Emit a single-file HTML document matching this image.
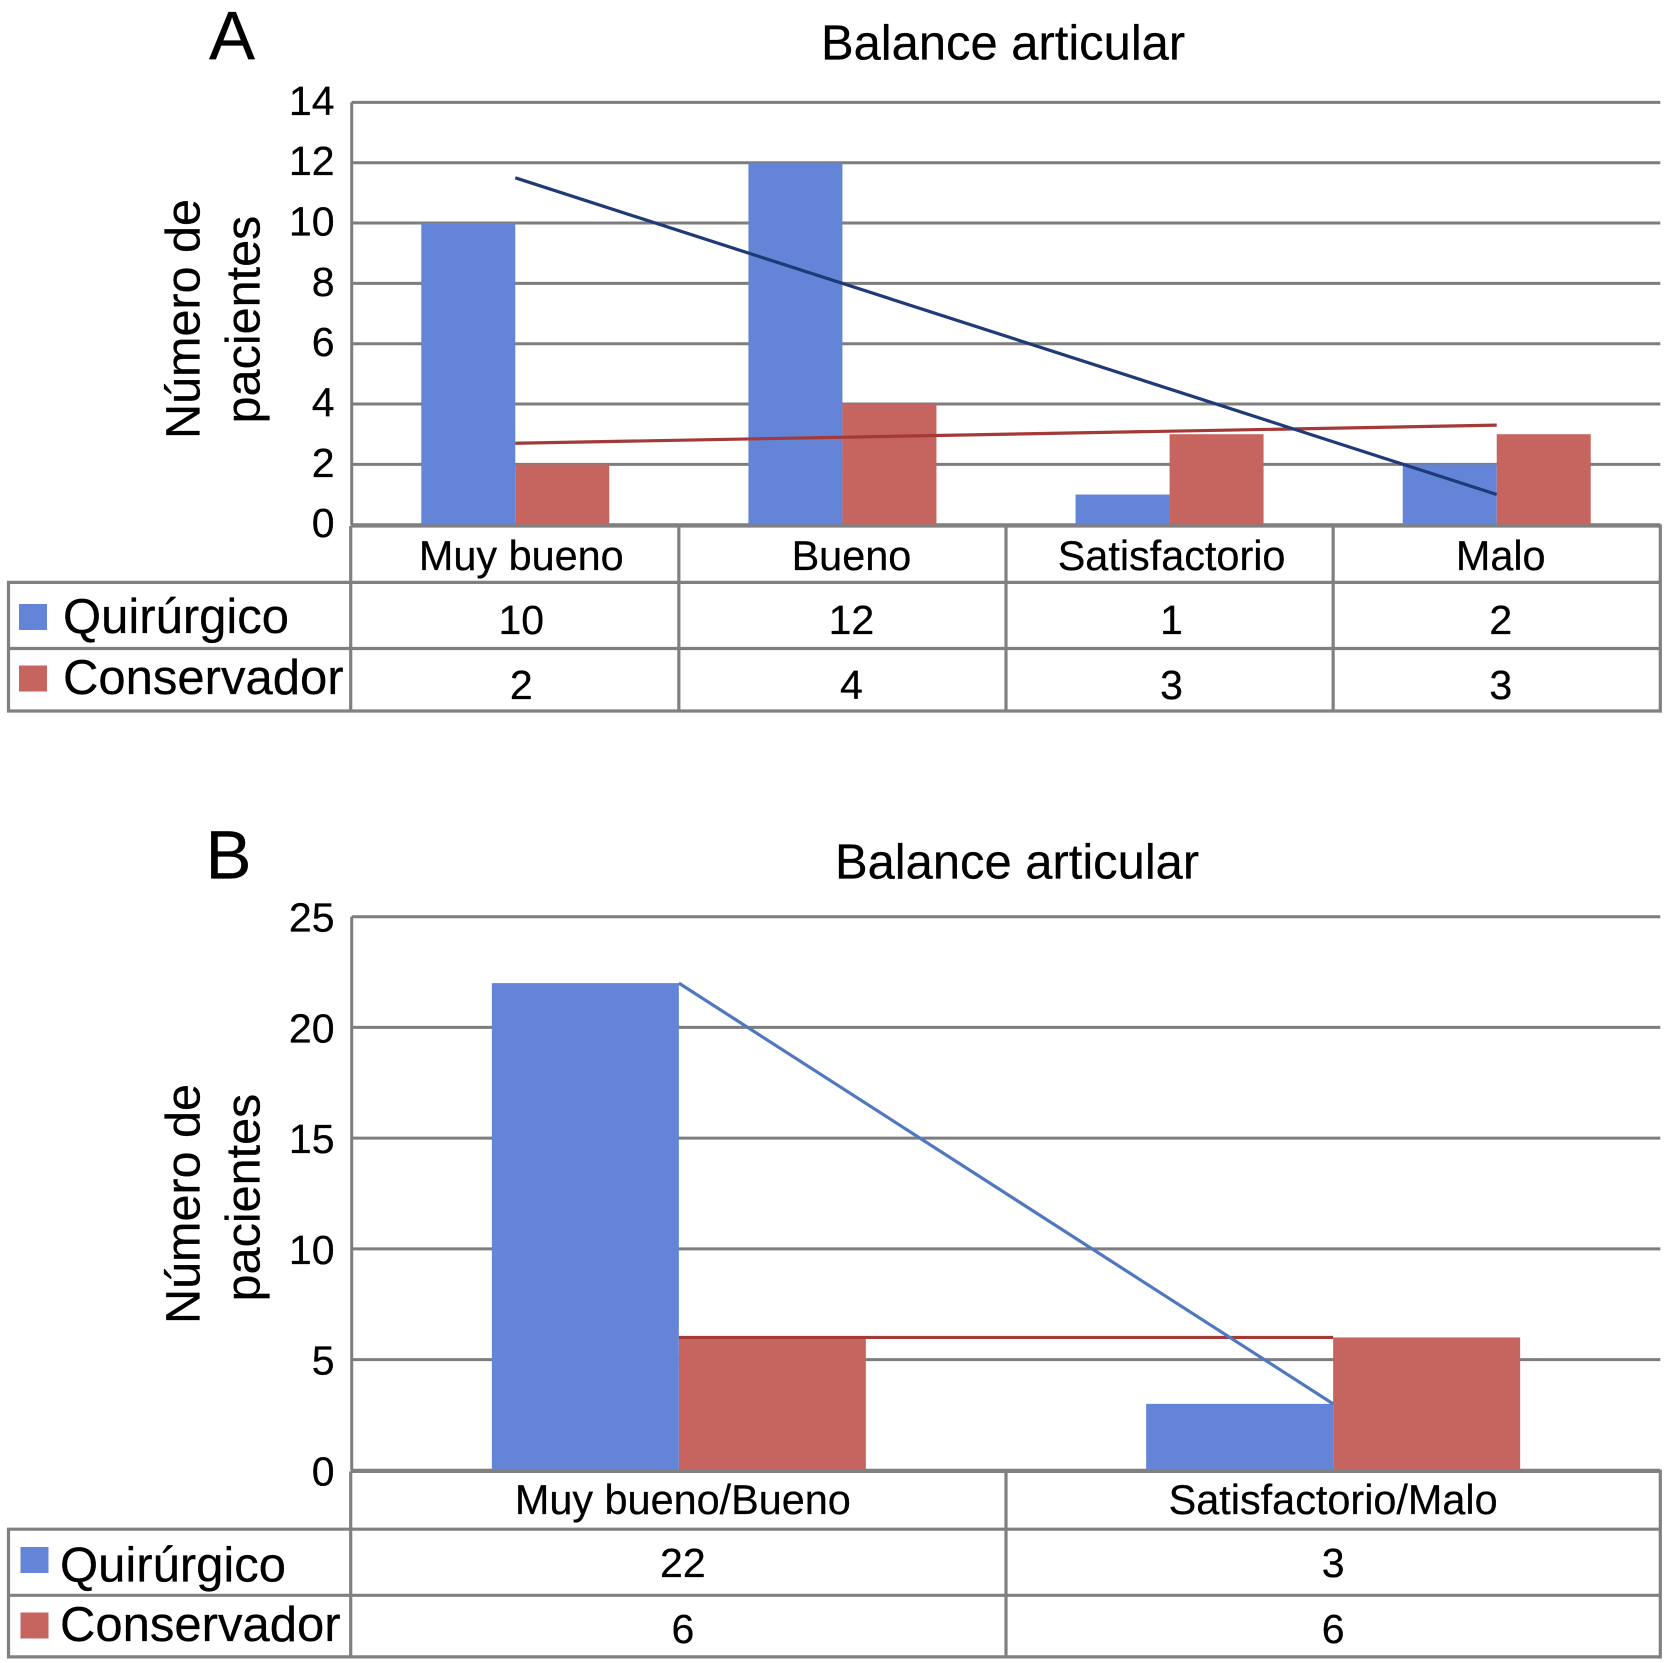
<!DOCTYPE html>
<html lang="es">
<head>
<meta charset="utf-8">
<title>Balance articular</title>
<style>
html,body{margin:0;padding:0;background:#fff;}
svg{display:block;}
text{font-family:"Liberation Sans",sans-serif;fill:#000;stroke:#000;stroke-width:0.25px;}
</style>
</head>
<body>
<svg id="figure" xmlns="http://www.w3.org/2000/svg" width="1666" height="1663" viewBox="0 0 1666 1663">
  <rect x="0" y="0" width="1666" height="1663" fill="#ffffff"/>
  <text x="209" y="59.6" font-size="69">A</text>
  <text x="821" y="59.6" font-size="48.9">Balance articular</text>
  <text transform="translate(199.5 319) rotate(-90)" text-anchor="middle" font-size="48.5">Número de</text>
  <text transform="translate(259.5 319.5) rotate(-90)" text-anchor="middle" font-size="48.5">pacientes</text>
  <g id="chart-a"></g>

  <text x="205.5" y="878.7" font-size="69">B</text>
  <text x="835" y="878.5" font-size="48.9">Balance articular</text>
  <text transform="translate(199.5 1204) rotate(-90)" text-anchor="middle" font-size="48.5">Número de</text>
  <text transform="translate(259.5 1197.5) rotate(-90)" text-anchor="middle" font-size="48.5">pacientes</text>
  <g id="chart-b"></g>
</svg>
<script>
const categoriesA = ['Muy bueno', 'Bueno', 'Satisfactorio', 'Malo'];
const quirurgicoA = [10, 12, 1, 2];
const conservadorA = [2, 4, 3, 3];
const ticksA = [0, 2, 4, 6, 8, 10, 12, 14];

const categoriesB = ['Muy bueno/Bueno', 'Satisfactorio/Malo'];
const quirurgicoB = [22, 3];
const conservadorB = [6, 6];
const ticksB = [0, 5, 10, 15, 20, 25];

const seriesNames = ['Quirúrgico', 'Conservador'];

const SVG_NS = 'http://www.w3.org/2000/svg';
const BLUE = '#6484d8';
const RED = '#c66460';
const GRID = '#7d7d7d';

function mk(parent, tag, attrs, text) {
  const el = document.createElementNS(SVG_NS, tag);
  for (const k in attrs) el.setAttribute(k, attrs[k]);
  if (text !== undefined) el.textContent = text;
  parent.appendChild(el);
  return el;
}

function trend(values) {
  const n = values.length;
  const mx = (n - 1) / 2;
  const my = values.reduce((a, b) => a + b, 0) / n;
  let sxy = 0, sxx = 0;
  values.forEach((v, i) => { sxy += (i - mx) * (v - my); sxx += (i - mx) * (i - mx); });
  const slope = sxy / sxx;
  return i => my + slope * (i - mx);
}

function drawChart(root, p, cats, s1, s2, ticks, L) {
  const yMax = ticks[ticks.length - 1];
  const y = v => L.y0 - (v / yMax) * (L.y0 - L.yTop);
  const band = (L.right - L.left) / cats.length;
  const cx = i => L.left + band * (i + 0.5);

  ticks.forEach(t => {
    const line = mk(root, 'line', { x1: L.left, x2: L.right, y1: y(t), y2: y(t), stroke: GRID, 'stroke-width': 3 });
    
    
    const label = mk(root, 'text', { x: 334.5, y: y(t) + L.tickDy, 'text-anchor': 'end', 'font-size': 41 }, String(t));
    
    
  });

  const axis = mk(root, 'line', { x1: L.left, x2: L.left, y1: L.yTop, y2: L.y0, stroke: GRID, 'stroke-width': 3 });
  
  

  cats.forEach((c, i) => {
    const b1 = mk(root, 'rect', { x: cx(i) - L.barW, y: y(s1[i]), width: L.barW, height: L.y0 - y(s1[i]), fill: BLUE });
    
    
    const b2 = mk(root, 'rect', { x: cx(i), y: y(s2[i]), width: L.barW, height: L.y0 - y(s2[i]), fill: RED });
    
    
  });

  const last = cats.length - 1;
  const t2 = trend(s2);
  const redLine = mk(root, 'line', { x1: cx(0), y1: y(t2(0)), x2: cx(last), y2: y(t2(last)), stroke: L.redTrend, 'stroke-width': 3.2 });
  
  
  const t1 = trend(s1);
  const blueLine = mk(root, 'line', { x1: cx(0), y1: y(t1(0)), x2: cx(last), y2: y(t1(last)), stroke: L.blueTrend, 'stroke-width': 3.2 });
  
  

  const tableBorder = mk(root, 'path', {
    d: 'M' + L.tableLeft + ' ' + L.rows[0] + 'H' + L.right + 'V' + L.rows[3] + 'H8.5V' + L.rows[1] + 'H' + L.right +
       'M8.5 ' + L.rows[2] + 'H' + L.right + 'M' + L.tableLeft + ' ' + L.rows[0] + 'V' + L.rows[3],
    fill: 'none', stroke: '#808080', 'stroke-width': 3.2
  });
  
  

  cats.forEach((c, i) => {
    if (i > 0) {
      const x = L.left + band * i;
      const sep = mk(root, 'line', { x1: x, x2: x, y1: L.rows[0], y2: L.rows[3], stroke: '#808080', 'stroke-width': 3.2 });
      
      
    }
    const head = mk(root, 'text', { x: cx(i) + L.textDx[i], y: L.textY[0], 'text-anchor': 'middle', 'font-size': 41.4 }, c);
    
    
    const v1 = mk(root, 'text', { x: cx(i) + L.textDx[i], y: L.textY[1], 'text-anchor': 'middle', 'font-size': 41 }, String(s1[i]));
    
    
    const v2 = mk(root, 'text', { x: cx(i) + L.textDx[i], y: L.textY[2], 'text-anchor': 'middle', 'font-size': 41 }, String(s2[i]));
    
    
  });

  const sw1 = mk(root, 'rect', { x: L.swatchX, y: L.textY[1] - 30, width: 28, height: 26, fill: BLUE });
  
  
  const sw2 = mk(root, 'rect', { x: L.swatchX, y: L.legendY[1] - 28.5, width: 28, height: 26, fill: RED });
  
  
  const lg1 = mk(root, 'text', { x: L.legendX, y: L.legendY[0], 'font-size': 49 }, seriesNames[0]);
  
  
  const lg2 = mk(root, 'text', { x: L.legendX, y: L.legendY[1], 'font-size': 49 }, seriesNames[1]);
  
  
}

drawChart(document.getElementById('chart-a'), 'panel-a', categoriesA, quirurgicoA, conservadorA, ticksA, {
  left: 351.7, right: 1660.3, yTop: 102.4, y0: 524.7, barW: 94, tickDy: 12.5,
  tableLeft: 350.7, rows: [526, 582.4, 648.5, 711], textY: [570, 634, 699], textDx: [6, 9, 2, 4],
  legendX: 63, legendY: [633, 694], swatchX: 19,
  blueTrend: '#1f3a78', redTrend: '#a33a38'
});

drawChart(document.getElementById('chart-b'), 'panel-b', categoriesB, quirurgicoB, conservadorB, ticksB, {
  left: 351.7, right: 1660.3, yTop: 916.7, y0: 1470.3, barW: 187, tickDy: 15,
  tableLeft: 350.7, rows: [1471.4, 1529.2, 1595.3, 1656.9], textY: [1514, 1577, 1643], textDx: [4, 0],
  legendX: 60, legendY: [1581.5, 1641], swatchX: 20.5,
  blueTrend: '#5078c0', redTrend: '#a33a35'
});
</script>
</body>
</html>
